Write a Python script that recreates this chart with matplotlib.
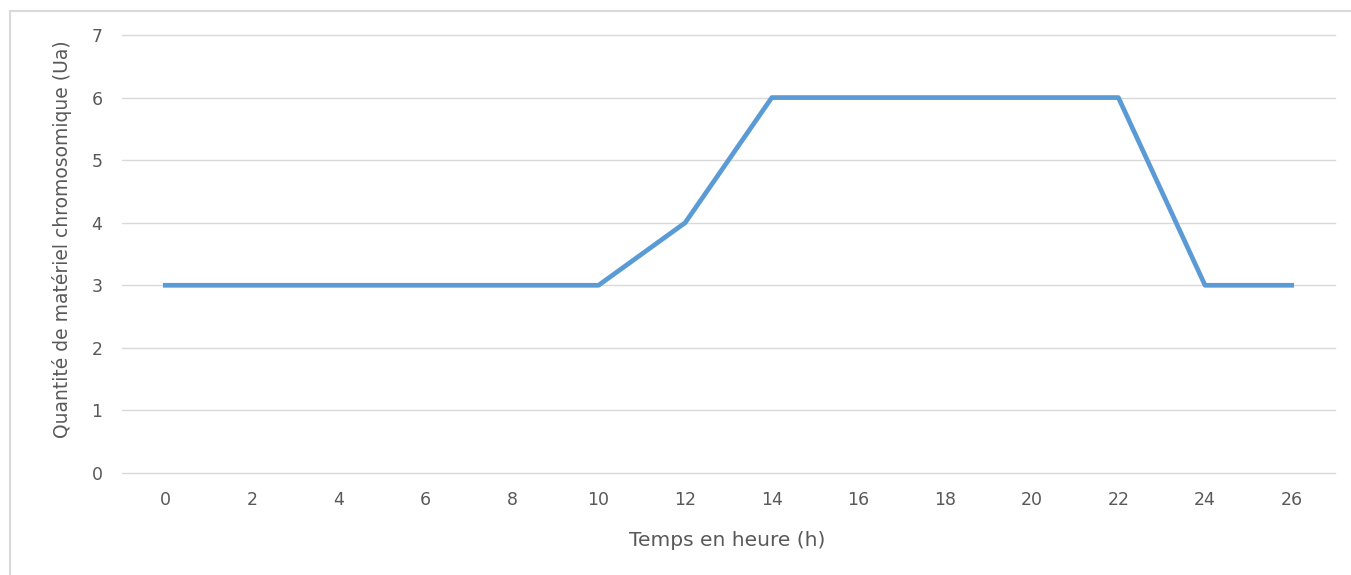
import matplotlib
matplotlib.use("Agg")
import matplotlib.pyplot as plt
from matplotlib.patches import Rectangle

hours = [0, 2, 4, 6, 8, 10, 12, 14, 16, 18, 20, 22, 24, 26]
quantity = [3, 3, 3, 3, 3, 3, 4, 6, 6, 6, 6, 6, 3, 3]

TEXT = "#595959"
GRID = "#d9d9d9"
LINE = "#5b9bd5"

plt.rcParams["font.family"] = ["DejaVu Sans"]

fig = plt.figure(figsize=(13.51, 5.75), dpi=100)
fig.patches.append(Rectangle((10 / 1351, -0.1), 1.2, 1 - 11 / 575 + 0.1,
                             transform=fig.transFigure, fill=False,
                             edgecolor="#d9d9d9", linewidth=1.5))

ax = fig.add_axes([122 / 1351, 1 - 473 / 575, 1213 / 1351, 438 / 575])
idx = list(range(len(hours)))
ax.plot(idx, quantity, color=LINE, linewidth=3.4, solid_joinstyle="round")

ax.set_xlim(-0.5, len(hours) - 0.5)
ax.set_ylim(0, 7)
ax.set_xticks(idx)
ax.set_xticklabels([str(h) for h in hours])
ax.set_yticks(range(8))
for y in range(8):
    ax.axhline(y, color=GRID, linewidth=1, zorder=0, clip_on=False)
for s in ax.spines.values():
    s.set_visible(False)
ax.tick_params(length=0, colors=TEXT, labelsize=12.5)
ax.tick_params(axis="x", pad=13)
ax.tick_params(axis="y", pad=14)

fig.text(727 / 1351, 1 - 540 / 575, "Temps en heure (h)", ha="center",
         va="center", color=TEXT, fontsize=14.5)
fig.text(62 / 1351, 1 - 239 / 575, "Quantité de matériel chromosomique (Ua)",
         rotation=90, ha="center", va="center", color=TEXT, fontsize=13.5)

fig.savefig("out.png", dpi=100)
